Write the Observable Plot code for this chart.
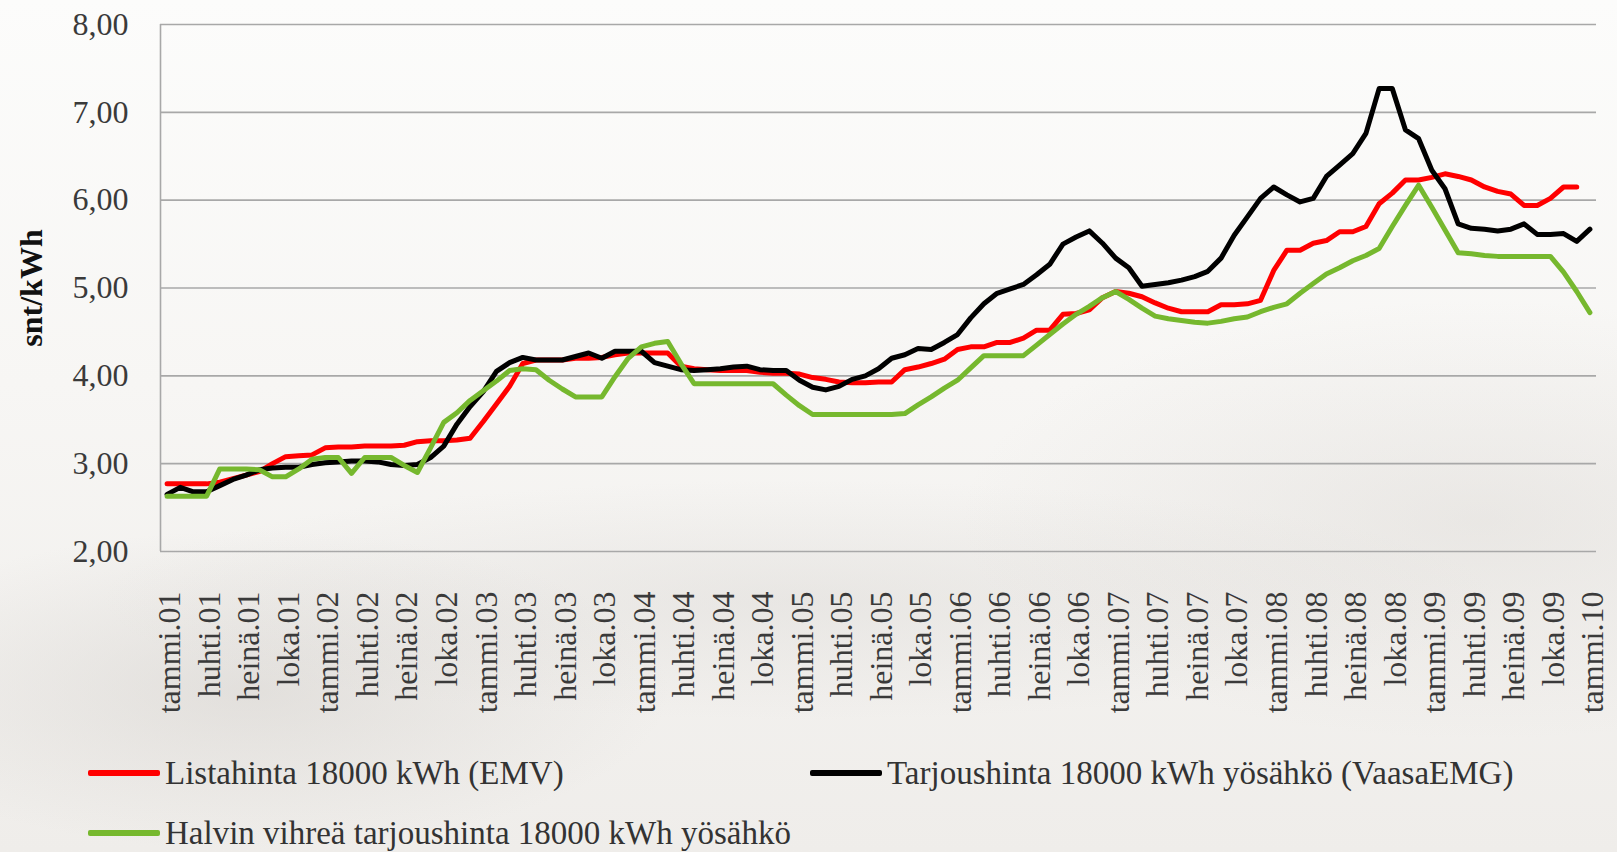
<!DOCTYPE html>
<html>
<head>
<meta charset="utf-8">
<script src="https://cdn.jsdelivr.net/npm/d3@7"></script>
<script src="https://cdn.jsdelivr.net/npm/@observablehq/plot@0.6"></script>
<style>
  html, body { margin: 0; padding: 0; }
  body {
    width: 1617px; height: 852px; overflow: hidden;
    background:
      radial-gradient(ellipse 420px 160px at 250px 690px, rgba(190,185,180,0.30), rgba(190,185,180,0)),
      radial-gradient(ellipse 520px 220px at 1480px 520px, rgba(200,195,190,0.25), rgba(200,195,190,0)),
      radial-gradient(ellipse 700px 120px at 800px 600px, rgba(200,196,192,0.25), rgba(200,196,192,0)),
      linear-gradient(180deg, #fcfcfb 0%, #f7f6f4 45%, #efedea 100%);
    font-family: "Liberation Serif", "DejaVu Serif", serif;
  }
  #legend { position: relative; height: 107px; font-size: 33px; color: #333; }
  .item { position: absolute; display: flex; align-items: center; height: 40px; white-space: nowrap; }
  .sw { width: 72px; height: 6px; margin-right: 5px; border-radius: 2px; }
</style>
</head>
<body>
<div id="chart"></div>
<div id="legend"></div>
<script>
// Tick labels (every third month, Jan 2001 .. Jan 2010)
const tickLabels = [
  "tammi.01","huhti.01","heinä.01","loka.01",
  "tammi.02","huhti.02","heinä.02","loka.02",
  "tammi.03","huhti.03","heinä.03","loka.03",
  "tammi.04","huhti.04","heinä.04","loka.04",
  "tammi.05","huhti.05","heinä.05","loka.05",
  "tammi.06","huhti.06","heinä.06","loka.06",
  "tammi.07","huhti.07","heinä.07","loka.07",
  "tammi.08","huhti.08","heinä.08","loka.08",
  "tammi.09","huhti.09","heinä.09","loka.09",
  "tammi.10"
];
const yTicks = [2, 3, 4, 5, 6, 7, 8];

const seriesNames = [
  "Listahinta 18000 kWh (EMV)",
  "Tarjoushinta 18000 kWh yösähkö (VaasaEMG)",
  "Halvin vihreä tarjoushinta 18000 kWh yösähkö"
];
const seriesColors = ["#ff0000", "#000000", "#76b82e"];

// Monthly values, snt/kWh, from Jan 2001
const listahinta = [
  2.77,2.77,2.77,2.77,2.79,2.83,2.87,2.91,3.00,3.08,3.09,3.10,
  3.18,3.19,3.19,3.20,3.20,3.20,3.21,3.25,3.26,3.26,3.27,3.29,
  3.48,3.68,3.88,4.14,4.18,4.18,4.18,4.20,4.20,4.21,4.24,4.26,
  4.26,4.26,4.26,4.11,4.08,4.07,4.06,4.06,4.06,4.04,4.03,4.03,
  4.02,3.98,3.96,3.93,3.92,3.92,3.93,3.93,4.07,4.10,4.14,4.19,
  4.30,4.33,4.33,4.38,4.38,4.43,4.52,4.52,4.70,4.71,4.75,4.89,
  4.96,4.94,4.90,4.83,4.77,4.73,4.73,4.73,4.81,4.81,4.82,4.86,
  5.20,5.43,5.43,5.51,5.54,5.64,5.64,5.70,5.96,6.08,6.23,6.23,
  6.26,6.30,6.27,6.23,6.15,6.10,6.07,5.94,5.94,6.02,6.15,6.15
];
const tarjoushinta = [
  2.65,2.73,2.68,2.68,2.75,2.82,2.87,2.93,2.95,2.96,2.96,2.99,
  3.01,3.02,3.03,3.03,3.02,2.99,2.98,2.99,3.07,3.20,3.45,3.65,
  3.82,4.05,4.15,4.21,4.18,4.18,4.18,4.22,4.26,4.20,4.28,4.28,
  4.28,4.15,4.11,4.07,4.06,4.07,4.08,4.10,4.11,4.07,4.06,4.06,
  3.95,3.87,3.84,3.88,3.96,4.00,4.08,4.20,4.24,4.31,4.30,4.38,
  4.47,4.66,4.82,4.94,4.99,5.04,5.15,5.27,5.50,5.58,5.65,5.51,
  5.34,5.23,5.02,5.04,5.06,5.09,5.13,5.19,5.34,5.60,5.81,6.02,
  6.15,6.06,5.98,6.02,6.27,6.40,6.53,6.76,7.27,7.27,6.80,6.70,
  6.34,6.13,5.73,5.68,5.67,5.65,5.67,5.73,5.61,5.61,5.62,5.53,
  5.67
];
const vihrea = [
  2.63,2.63,2.63,2.63,2.94,2.94,2.94,2.93,2.85,2.85,2.94,3.05,
  3.07,3.07,2.89,3.07,3.07,3.07,2.98,2.90,3.18,3.47,3.58,3.72,
  3.83,3.94,4.06,4.08,4.07,3.95,3.85,3.76,3.76,3.76,3.99,4.20,
  4.33,4.37,4.39,4.14,3.91,3.91,3.91,3.91,3.91,3.91,3.91,3.78,
  3.66,3.56,3.56,3.56,3.56,3.56,3.56,3.56,3.57,3.67,3.76,3.86,
  3.95,4.09,4.23,4.23,4.23,4.23,4.35,4.47,4.59,4.70,4.79,4.89,
  4.96,4.87,4.77,4.68,4.65,4.63,4.61,4.60,4.62,4.65,4.67,4.73,
  4.78,4.82,4.94,5.05,5.16,5.23,5.31,5.37,5.45,5.70,5.94,6.17,
  5.92,5.66,5.40,5.39,5.37,5.36,5.36,5.36,5.36,5.36,5.18,4.96,
  4.72
];

const toRows = arr => arr.map((v, i) => ({i, v}));
const tickIdx = tickLabels.map((_, k) => k * 3);
const fmt = d => d.toFixed(2).replace(".", ",");

const H = 745;
const chart = Plot.plot({
  width: 1617,
  height: H,
  marginLeft: 160,
  marginRight: 21,
  marginTop: 24,
  marginBottom: H - 551,
  style: {fontFamily: "Liberation Serif, DejaVu Serif, serif", fontSize: "32px", color: "#3a3a3a", background: "transparent", overflow: "visible"},
  x: {domain: [-0.5, 108.5]},
  y: {domain: [2, 8]},
  marks: [
    Plot.ruleY(yTicks, {stroke: "#a8a8a8", strokeWidth: 1.6}),
    Plot.ruleX([-0.5], {stroke: "#a8a8a8", strokeWidth: 1.6}),
    Plot.axisY({ticks: yTicks, tickSize: 0, tickPadding: 32, tickFormat: fmt, label: null, fontSize: 32}),
    Plot.axisX({ticks: tickIdx, tickSize: 0, tickPadding: 40, tickRotate: -90, dx: 3, tickFormat: d => tickLabels[d / 3], label: null, fontSize: 32}),
    Plot.text(["snt/kWh"], {frameAnchor: "left", textAnchor: "middle", dx: -129, rotate: -90, fontWeight: "bold", fontSize: 32, fill: "#111"}),
    Plot.line(toRows(listahinta), {x: "i", y: "v", stroke: seriesColors[0], strokeWidth: 5, strokeLinejoin: "round"}),
    Plot.line(toRows(tarjoushinta), {x: "i", y: "v", stroke: seriesColors[1], strokeWidth: 5, strokeLinejoin: "round"}),
    Plot.line(toRows(vihrea), {x: "i", y: "v", stroke: seriesColors[2], strokeWidth: 5, strokeLinejoin: "round"})
  ]
});
document.getElementById("chart").appendChild(chart);

// Legend
const legendPos = [
  {left: 88, top: 8},
  {left: 810, top: 8},
  {left: 88, top: 68}
];
const legend = document.getElementById("legend");
seriesNames.forEach((name, k) => {
  const item = document.createElement("div");
  item.className = "item";
  item.style.left = legendPos[k].left + "px";
  item.style.top = legendPos[k].top + "px";
  const sw = document.createElement("div");
  sw.className = "sw";
  sw.style.background = seriesColors[k];
  const tx = document.createElement("span");
  tx.textContent = name;
  item.appendChild(sw);
  item.appendChild(tx);
  legend.appendChild(item);
});
</script>
</body>
</html>
